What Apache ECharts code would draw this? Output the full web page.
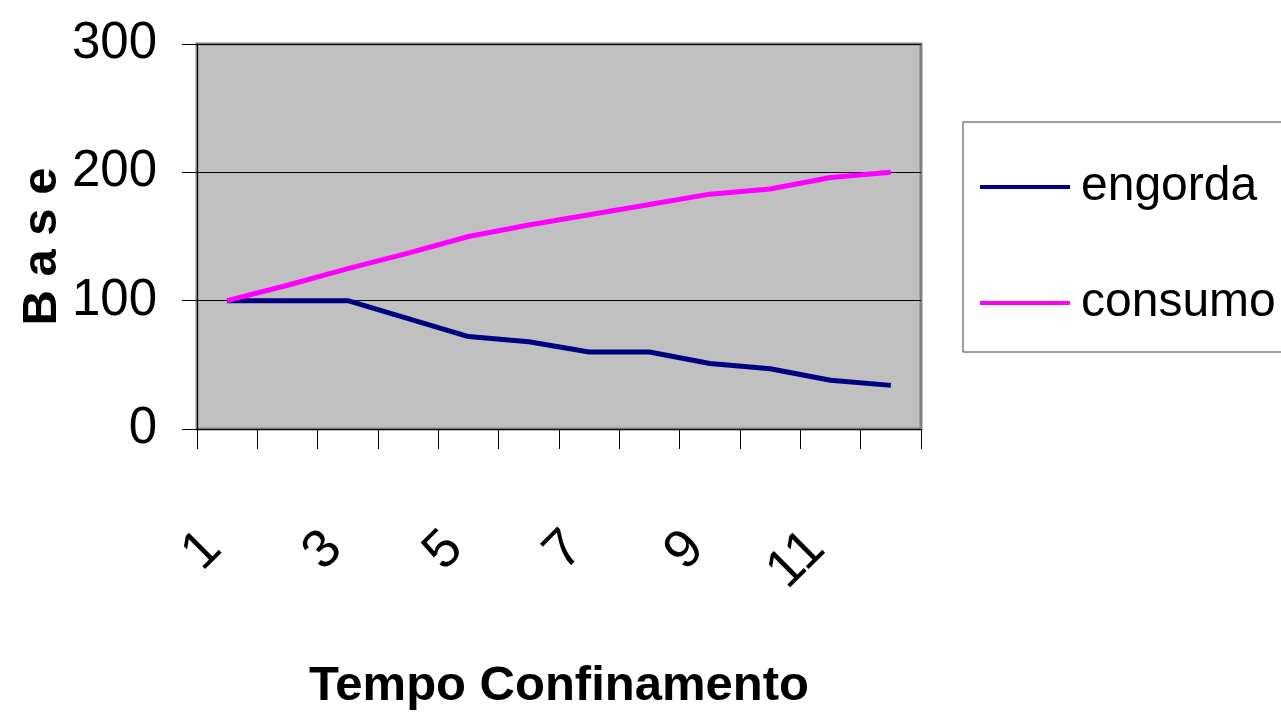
<!DOCTYPE html>
<html>
<head>
<meta charset="utf-8">
<script src="https://cdn.jsdelivr.net/npm/echarts@6/dist/echarts.min.js"></script>
<style>
html,body{margin:0;padding:0;background:#fff;}
#c{width:1281px;height:726px;}
</style>
</head>
<body>
<div id="c"></div>
<script>
const categories = ['1','2','3','4','5','6','7','8','9','10','11','12'];
const engorda = [100, 100, 100, 86, 72, 68, 60, 60, 51, 47, 38, 34];
const consumo = [100, 112, 125, 137, 150, 159, 167, 175, 183, 187, 196, 200];
const seriesNames = ['engorda', 'consumo'];
const xTitle = 'Tempo Confinamento';
const yTitle = 'B a s e';

const FONT = "'Liberation Sans', Arial, sans-serif";
const chart = echarts.init(document.getElementById('c'), null, {renderer: 'canvas'});
chart.setOption({
  animation: false,
  backgroundColor: '#ffffff',
  textStyle: {fontFamily: FONT},
  grid: {
    left: 197, right: 360, top: 44, bottom: 297,
    outerBoundsMode: 'none', containLabel: false,
    show: true, backgroundColor: '#C0C0C0', borderColor: '#808080', borderWidth: 3
  },
  legend: {
    orient: 'vertical',
    left: 963, top: 122,
    backgroundColor: '#ffffff',
    borderColor: '#404040', borderWidth: 1, borderRadius: 0,
    padding: [35, 30, 19, 17],
    icon: 'rect',
    itemWidth: 90, itemHeight: 4, itemGap: 56,
    textStyle: {fontFamily: FONT, fontSize: 48, color: '#000', lineHeight: 60, padding: [0, 0, 0, 6]},
    data: seriesNames
  },
  xAxis: {
    type: 'category',
    data: categories,
    boundaryGap: true,
    name: xTitle,
    nameLocation: 'middle',
    nameMoveOverlap: false,
    nameGap: 233,
    nameTextStyle: {fontFamily: FONT, fontSize: 49, fontWeight: 'bold', color: '#000'},
    axisLine: {show: true, lineStyle: {color: '#000', width: 1}},
    axisTick: {show: true, length: 20, interval: 0, lineStyle: {color: '#000', width: 1}},
    axisLabel: {
      interval: 1, rotate: 45, margin: 97, fontSize: 54, color: '#000',
      fontFamily: FONT, padding: [0, 20, 46, 0]
    },
    splitLine: {show: false}
  },
  yAxis: {
    type: 'value',
    min: 0, max: 300, interval: 100,
    name: yTitle,
    nameLocation: 'middle',
    nameMoveOverlap: false,
    nameGap: 130,
    nameTextStyle: {fontFamily: FONT, fontSize: 49, fontWeight: 'bold', color: '#000', padding: [0, 20, 0, 0]},
    axisLine: {show: true, lineStyle: {color: '#000', width: 1}},
    axisTick: {show: true, length: 15, lineStyle: {color: '#000', width: 1}},
    axisLabel: {margin: 40, fontSize: 51, color: '#000', fontFamily: FONT},
    splitLine: {show: true, lineStyle: {color: '#000', width: 1}}
  },
  series: [
    {name: seriesNames[0], type: 'line', data: engorda, symbol: 'none', smooth: false,
     lineStyle: {color: '#000080', width: 5}, itemStyle: {color: '#000080'}},
    {name: seriesNames[1], type: 'line', data: consumo, symbol: 'none', smooth: false,
     lineStyle: {color: '#FF00FF', width: 5}, itemStyle: {color: '#FF00FF'}}
  ]
});
</script>
</body>
</html>
